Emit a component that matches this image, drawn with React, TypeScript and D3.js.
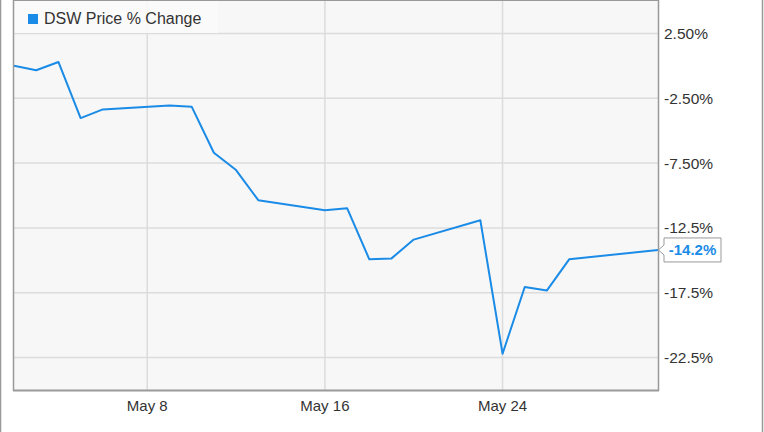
import React from "react";
import * as d3 from "d3";

const dates = [
  "2016-05-02", "2016-05-03", "2016-05-04", "2016-05-05", "2016-05-06",
  "2016-05-09", "2016-05-10", "2016-05-11", "2016-05-12", "2016-05-13",
  "2016-05-16", "2016-05-17", "2016-05-18", "2016-05-19", "2016-05-20",
  "2016-05-23", "2016-05-24", "2016-05-25", "2016-05-26", "2016-05-27",
  "2016-05-31",
];
const values = [
  0, -0.34, 0.3, -4.03, -3.36,
  -3.05, -3.15, -6.7, -8.04, -10.36,
  -11.14, -10.98, -14.92, -14.85, -13.4,
  -11.91, -22.2, -17.06, -17.32, -14.92,
  -14.2,
];
const yTicks = [2.5, -2.5, -7.5, -12.5, -17.5, -22.5];
const yTickLabels = ["2.50%", "-2.50%", "-7.50%", "-12.5%", "-17.5%", "-22.5%"];
const xTicks = ["2016-05-08", "2016-05-16", "2016-05-24"];
const xTickLabels = ["May 8", "May 16", "May 24"];
const seriesName = "DSW Price % Change";
const lastLabel = "-14.2%";

const W = 764, H = 432;
const L = 14, R = 658, T = 1, B = 390;
const BLUE = "#1a8be6";
const FONT = "'Liberation Sans', Arial, sans-serif";

export default function App() {
  const parse = d3.utcParse("%Y-%m-%d");
  const x = d3.scaleUtc().domain([parse("2016-05-02")!, parse("2016-05-31")!]).range([L, R]);
  const y = d3.scaleLinear().domain([-25, 5]).range([B, T]);
  const pts = dates.map((d, i) => [x(parse(d)!), y(values[i])] as [number, number]);
  const line = d3.line();
  const last = pts[pts.length - 1];
  const bx = 664, bw = 57, bh = 24;
  const by = last[1] - bh / 2;
  const boxPath = `M${bx},${by} L${bx + bw},${by} L${bx + bw},${by + bh} L${bx},${by + bh} L${bx},${last[1] + 5} L${last[0] + 0.5},${last[1]} L${bx},${last[1] - 5} Z`;
  return (
    <svg width={W} height={H} style={{ position: "absolute", left: 0, top: 0 }} fontFamily={FONT}>
      <rect x={0} y={0} width={W} height={H} fill="#fff" />
      <line x1={0.5} y1={0} x2={0.5} y2={H} stroke="#999" strokeWidth={1.5} />
      <line x1={762.5} y1={0} x2={762.5} y2={H} stroke="#999" strokeWidth={1.5} />
      <rect x={L} y={T} width={R - L} height={B - T} fill="#f7f7f7" />
      {xTicks.map((t) => (
        <line key={t} x1={x(parse(t)!)} x2={x(parse(t)!)} y1={T} y2={B} stroke="#dcdcdc" strokeWidth={1.5} />
      ))}
      {yTicks.map((t) => (
        <line key={t} x1={L} x2={R} y1={y(t)} y2={y(t)} stroke="#dcdcdc" strokeWidth={1.5} />
      ))}
      <rect x={L} y={T} width={204} height={32} fill="#fafafa" opacity={0.85} />
      <rect x={28} y={14} width={10} height={10} fill={BLUE} />
      <text x={44} y={24} fontSize={16} fill="#333">{seriesName}</text>
      <path d={line(pts)!} fill="none" stroke={BLUE} strokeWidth={2} strokeLinejoin="round" />
      <line x1={L - 0.5} y1={0} x2={L - 0.5} y2={B + 1} stroke="#999" strokeWidth={1.5} />
      <line x1={L - 1} y1={T - 0.5} x2={R + 1} y2={T - 0.5} stroke="#999" strokeWidth={1} />
      <line x1={R + 0.5} y1={0} x2={R + 0.5} y2={B + 1} stroke="#999" strokeWidth={1.5} />
      <line x1={L - 1} y1={B + 0.5} x2={R + 1} y2={B + 0.5} stroke="#999" strokeWidth={2} />
      {yTicks.map((t, i) => (
        <text key={t} x={664} y={y(t)} dy="0.36em" fontSize={15.5} fill="#333">{yTickLabels[i]}</text>
      ))}
      {xTicks.map((t, i) => (
        <text key={t} x={x(parse(t)!)} y={411} textAnchor="middle" fontSize={15} fill="#333">{xTickLabels[i]}</text>
      ))}
      <path d={boxPath} fill="#fff" stroke="#999" strokeWidth={1} />
      <text x={bx + bw / 2} y={last[1]} dy="0.36em" textAnchor="middle" fontSize={15} fontWeight="bold" fill={BLUE}>{lastLabel}</text>
    </svg>
  );
}
